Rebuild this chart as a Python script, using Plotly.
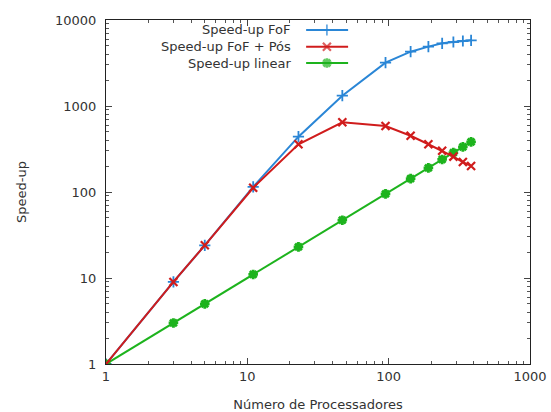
import plotly.graph_objects as go

# ---- data ----
processors = [1, 3, 5, 11, 23, 47, 95, 143, 191, 239, 287, 335, 383]
speedup_fof = [1, 9, 24, 115, 440, 1318, 3190, 4280, 4900, 5350, 5550, 5700, 5800]
speedup_fof_pos = [1, 9, 24, 112, 359, 646, 585, 451, 359, 302, 258, 223, 201]
speedup_linear = [1, 3, 5, 11, 23, 47, 95, 143, 191, 239, 287, 335, 383]

series_names = ["Speed-up FoF", "Speed-up FoF + Pós", "Speed-up linear"]
x_ticks = [1, 10, 100, 1000]
y_ticks = [1, 10, 100, 1000, 10000]

BLUE = "#2a86d6"
RED = "#d01c1c"
GREEN = "#1db31d"
FONT = "DejaVu Sans"
TXT = "#333333"

styles = [
    dict(color=BLUE, symbol="cross-thin-open", size=8, lw=1.8),
    dict(color=RED, symbol="x-thin-open", size=8, lw=2.2),
    dict(color=GREEN, symbol="asterisk-open", size=8, lw=2.8),
]
values = [speedup_fof, speedup_fof_pos, speedup_linear]

fig = go.Figure()
order = [0, 2, 1]  # red drawn on top of blue as in the reference
for i in order:
    st = styles[i]
    fig.add_trace(go.Scatter(
        x=processors, y=values[i], mode="lines+markers", name=series_names[i],
        line=dict(color=st["color"], width=2),
        marker=dict(symbol=st["symbol"], size=st["size"], color=st["color"],
                    line=dict(color=st["color"], width=st["lw"])),
        showlegend=False,
    ))

# manual legend (text on the left, sample on the right as in gnuplot)
leg_y = [0.971, 0.922, 0.875]
for i in range(3):
    st = styles[i]
    fig.add_trace(go.Scatter(
        x=[0.472, 0.521, 0.571], y=[leg_y[i]] * 3, xaxis="x2", yaxis="y2",
        mode="lines+markers",
        line=dict(color=st["color"], width=2),
        marker=dict(symbol=st["symbol"], size=[0, st["size"], 0], color=st["color"],
                    line=dict(color=st["color"], width=st["lw"])),
        showlegend=False, hoverinfo="skip",
    ))
    fig.add_annotation(
        xref="paper", yref="paper", x=0.441, y=leg_y[i], text=series_names[i],
        showarrow=False, xanchor="right", yanchor="middle",
        font=dict(family=FONT, size=13, color=TXT),
    )

axis_common = dict(
    type="log", showline=True, linecolor="#222", linewidth=1.2, mirror="allticks",
    ticks="inside", ticklen=6, tickcolor="#444", showgrid=False, zeroline=False,
    automargin=False,
    tickfont=dict(family=FONT, size=13, color=TXT),
    minor=dict(ticks="inside", ticklen=3, tickcolor="#555", dtick="D1", showgrid=False),
)

fig.update_layout(
    width=551, height=412,
    margin=dict(l=106, r=21, t=20, b=48, autoexpand=False),
    paper_bgcolor="white", plot_bgcolor="white",
    xaxis=dict(axis_common, range=[0, 3], tickvals=x_ticks,
               ticktext=[str(v) for v in x_ticks],
               title=dict(text="Número de Processadores", standoff=17,
                          font=dict(family=FONT, size=13, color=TXT))),
    yaxis=dict(axis_common, range=[0, 4], tickvals=y_ticks,
               ticktext=[str(v) for v in y_ticks], ticklabelstandoff=6,
               title=dict(text="Speed-up", standoff=25,
                          font=dict(family=FONT, size=13, color=TXT))),
    xaxis2=dict(overlaying="x", range=[0, 1], visible=False),
    yaxis2=dict(overlaying="y", range=[0, 1], visible=False),
)

fig.write_html(
    "out.html",
    config={"displayModeBar": False},
    post_script="document.body.style.margin='0';document.body.style.overflow='hidden';",
)
